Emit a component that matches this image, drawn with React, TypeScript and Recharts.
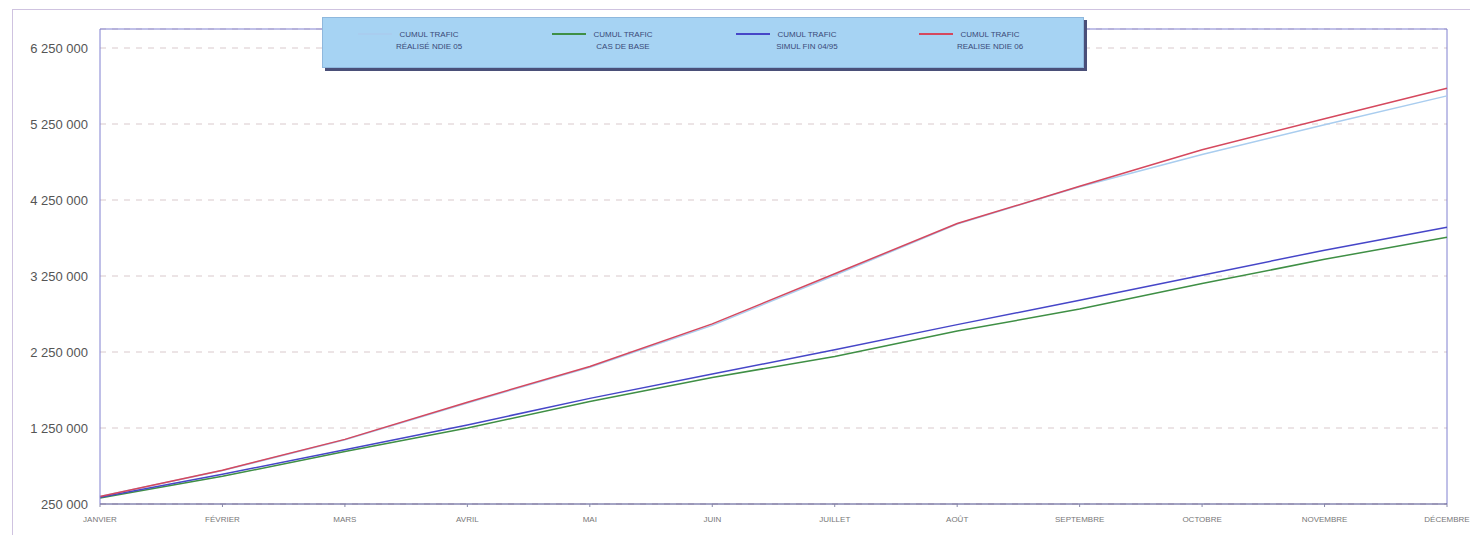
import React from 'react';
import { LineChart, Line, XAxis, YAxis, CartesianGrid, ReferenceLine } from 'recharts';

const months = ['JANVIER', 'FÉVRIER', 'MARS', 'AVRIL', 'MAI', 'JUIN', 'JUILLET', 'AOÛT', 'SEPTEMBRE', 'OCTOBRE', 'NOVEMBRE', 'DÉCEMBRE'];

const realiseNdie05 = [350000, 690000, 1095000, 1580000, 2050000, 2600000, 3260000, 3935000, 4425000, 4850000, 5240000, 5620000];
const casDeBase = [330000, 615000, 940000, 1250000, 1600000, 1915000, 2190000, 2525000, 2815000, 3150000, 3470000, 3760000];
const simulFin0495 = [340000, 640000, 965000, 1290000, 1640000, 1960000, 2280000, 2610000, 2930000, 3260000, 3590000, 3890000];
const realiseNdie06 = [350000, 695000, 1100000, 1590000, 2060000, 2620000, 3280000, 3940000, 4430000, 4910000, 5320000, 5720000];

const yTicks = [250000, 1250000, 2250000, 3250000, 4250000, 5250000, 6250000];

const series = [
  { key: 'ndie05', line1: 'CUMUL TRAFIC', line2: 'RÉALISÉ NDIE 05', color: '#a9cdef', left: 35 },
  { key: 'base', line1: 'CUMUL TRAFIC', line2: 'CAS DE BASE', color: '#3f8f45', left: 229 },
  { key: 'simul', line1: 'CUMUL TRAFIC', line2: 'SIMUL FIN 04/95', color: '#4646c8', left: 413 },
  { key: 'ndie06', line1: 'CUMUL TRAFIC', line2: 'REALISE NDIE 06', color: '#d5485e', left: 596 },
];

const data = months.map((m, i) => ({
  month: m,
  ndie05: realiseNdie05[i],
  base: casDeBase[i],
  simul: simulFin0495[i],
  ndie06: realiseNdie06[i],
}));

const fmt = (v: number) => v.toLocaleString('fr-FR').replace(/[\u202f\u00a0]/g, ' ');

const LegendBox = () => (
  <div
    style={{
      position: 'absolute',
      left: 322,
      top: 17,
      width: 760,
      height: 49,
      background: '#a6d3f3',
      border: '1px solid #8fb8dd',
      boxShadow: '3px 3px 0 #4a4f78',
      fontFamily: '"Liberation Sans", Arial, sans-serif',
      fontSize: 8,
      color: '#3a4a78',
    }}
  >
    {series.map(s => (
      <div key={s.key} style={{ position: 'absolute', left: s.left, top: 11 }}>
        <div style={{ position: 'absolute', left: 0, top: 4, width: 34, height: 2, background: s.color }} />
        <div style={{ position: 'absolute', left: 36, top: 0, width: 70, textAlign: 'center', lineHeight: '12px', whiteSpace: 'nowrap' }}>
          <div>{s.line1}</div>
          <div>{s.line2}</div>
        </div>
      </div>
    ))}
  </div>
);

export default function App() {
  return (
    <div style={{ position: 'absolute', left: 0, top: 0, width: 1470, height: 535, background: '#fff', overflow: 'hidden' }}>
      <div style={{ position: 'absolute', left: 12, top: 9, width: 1470, height: 540, borderTop: '1px solid #cfc3e0', borderLeft: '1px solid #cfc3e0' }} />
      <LineChart width={1470} height={535} data={data} margin={{ top: 29, right: 23, bottom: 1, left: 0 }}>
        <CartesianGrid horizontal vertical={false} stroke="#d9c9cc" strokeDasharray="6 6" />
        <XAxis
          dataKey="month"
          interval={0}
          padding={{ left: 0, right: 0 }}
          stroke="#4b4b8a"
          tickLine={{ stroke: '#8888aa' }}
          tickSize={3}
          tick={{ fontSize: 8, fill: '#777', fontFamily: '"Liberation Sans", Arial, sans-serif' }}
          tickMargin={9}
        />
        <YAxis
          type="number"
          domain={[250000, 6500000]}
          ticks={yTicks}
          width={100}
          stroke="#8080d0"
          tickLine={false}
          tickFormatter={fmt}
          tickMargin={6}
          tick={{ fontSize: 13, fill: '#555', fontFamily: '"Liberation Sans", Arial, sans-serif' }}
        />
        <ReferenceLine y={6500000} stroke="#8080d0" />
        <ReferenceLine x="DÉCEMBRE" stroke="#8080d0" />
        <Line dataKey="ndie05" stroke="#a9cdef" strokeWidth={1.5} dot={false} isAnimationActive={false} />
        <Line dataKey="base" stroke="#3f8f45" strokeWidth={1.5} dot={false} isAnimationActive={false} />
        <Line dataKey="simul" stroke="#4646c8" strokeWidth={1.5} dot={false} isAnimationActive={false} />
        <Line dataKey="ndie06" stroke="#d5485e" strokeWidth={1.5} dot={false} isAnimationActive={false} />
      </LineChart>
      <LegendBox />
    </div>
  );
}
